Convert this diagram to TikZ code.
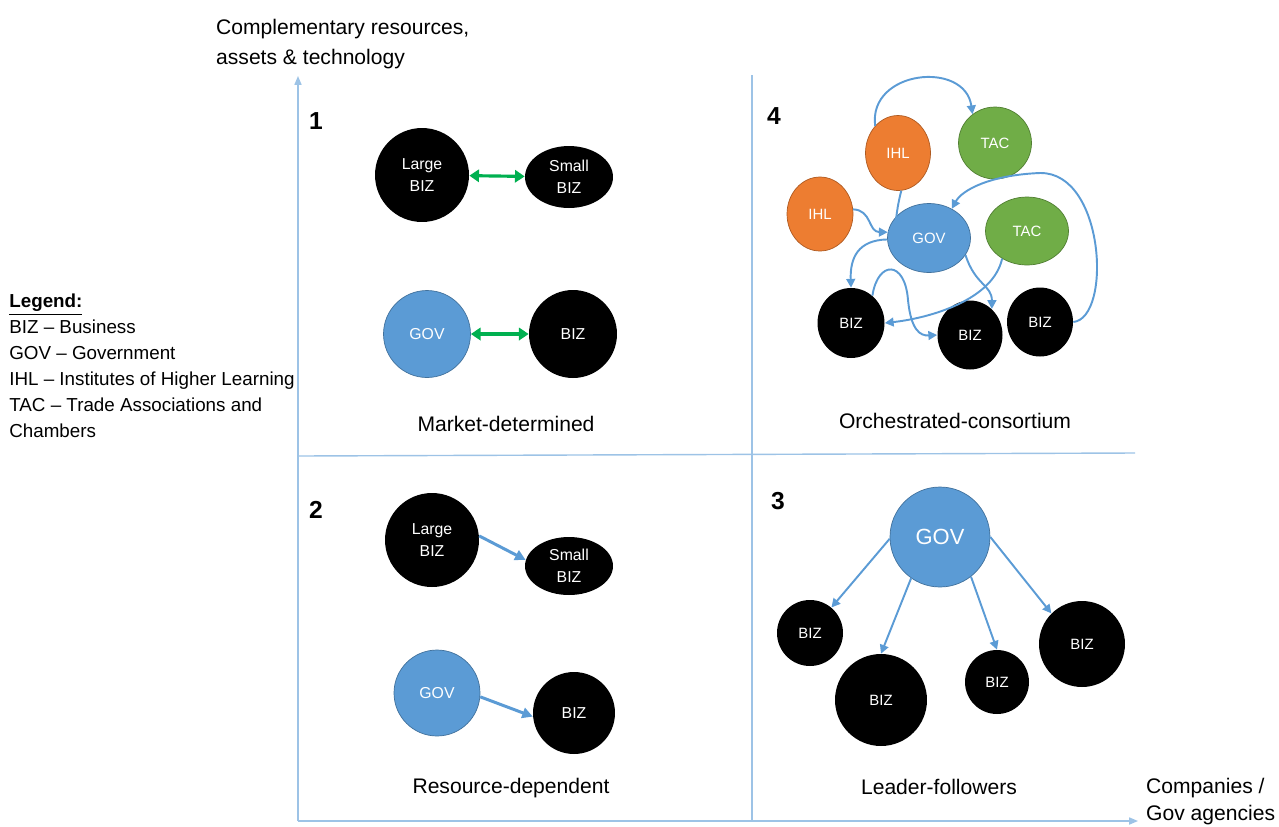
\documentclass[tikz,border=0pt]{standalone}
\usepackage{fontspec}
\setmainfont{Liberation Sans}
\usetikzlibrary{shapes.geometric,arrows.meta}
\definecolor{govblue}{HTML}{5B9BD5}
\definecolor{govedge}{HTML}{41719C}
\definecolor{ihlorange}{HTML}{ED7D31}
\definecolor{ihledge}{HTML}{AE5A21}
\definecolor{tacgreen}{HTML}{70AD47}
\definecolor{tacedge}{HTML}{507E32}
\definecolor{linkgreen}{HTML}{00B050}
\definecolor{axisblue}{HTML}{9DC3E6}
\begin{document}
\begin{tikzpicture}[x=0.02cm,y=-0.02cm]
	\useasboundingbox (0,0) rectangle (1279,826);
	\tikzstyle{unit}=[inner sep=0,text=white,align=center,font=\fontsize{9}{12.5}\selectfont]
	\tikzstyle{biz}=[unit,circle,fill=black]
	\tikzstyle{smallbiz}=[unit,ellipse,fill=black]
	\tikzstyle{gov}=[unit,circle,fill=govblue,draw=govedge,thin]
	\tikzstyle{blob}=[unit,ellipse,font=\fontsize{8.5}{10}\selectfont]
	\tikzstyle{ihl}=[blob,fill=ihlorange,draw=ihledge,thin]
	\tikzstyle{tac}=[blob,fill=tacgreen,draw=tacedge,thin]
	\tikzstyle{axis}=[draw=axisblue,line width=0.8pt]
	\tikzstyle{link}=[draw=linkgreen,line width=1.8pt,{Triangle[width=7pt,length=5.5pt]}-{Triangle[width=7pt,length=5.5pt]}]
	\tikzstyle{flow}=[draw=govblue,line width=1.7pt,-{Triangle[width=6pt,length=6pt]}]
	\tikzstyle{thinflow}=[draw=govblue,line width=1.1pt,-{Triangle[width=5pt,length=5pt]}]
	\tikzstyle{caption}=[font=\fontsize{12}{15}\selectfont]
	\tikzstyle{num}=[font=\fontsize{14}{15}\selectfont\bfseries]
	% axes and quadrant lines
	\coordinate (o) at (298,821);
	\coordinate (ytop) at (298,76);
	\coordinate (xend) at (1138,821);
	\coordinate (vtop) at (752,75);
	\coordinate (vbot) at (752,821);
	\coordinate (hleft) at (298,456);
	\coordinate (hright) at (1135,453);
	\draw[axis,-{Triangle[width=4pt,length=5pt]}] (o)--(ytop);
	\draw[axis,-{Triangle[width=4pt,length=5pt]}] (o)--(xend);
	\draw[axis] (vtop)--(vbot);
	\draw[axis] (hleft)--(hright);
	\node(ylab)[caption,anchor=north west,align=left,font=\fontsize{12}{17}\selectfont] at (210,13) {Complementary resources,\\assets \& technology};
	\node(xlab)[caption,anchor=north west,align=left,font=\fontsize{12}{15.3}\selectfont] at (1140,772) {Companies /\\Gov agencies};
	\node(legend)[anchor=north west,align=left,inner sep=0,font=\fontsize{10.7}{14.7}\selectfont] at (9,294)
		{\textbf{\underline{Legend:}}\\BIZ -- Business\\GOV -- Government\\IHL -- Institutes of Higher Learning\\TAC -- Trade Associations and\\Chambers};
	% 1: market-determined
	\node(n1)[num] at (316,121) {1};
	\node(lbiz1)[biz,minimum size=1.88cm] at (422,175) {Large\\BIZ};
	\node(sbiz1)[smallbiz,minimum width=1.76cm,minimum height=1.24cm] at (569,177) {Small\\BIZ};
	\node(gov1)[gov,minimum size=1.74cm] at (427,334) {GOV};
	\node(biz1)[biz,minimum size=1.76cm] at (573,334) {BIZ};
	\draw[link] (lbiz1)--(sbiz1);
	\draw[link] (gov1)--(biz1);
	\node(c1)[caption] at (506,424) {Market-determined};
	% 2: resource-dependent
	\node(n2)[num] at (316,510) {2};
	\node(lbiz2)[biz,minimum size=1.88cm] at (432,540) {Large\\BIZ};
	\node(sbiz2)[smallbiz,minimum width=1.76cm,minimum height=1.16cm] at (569,566) {Small\\BIZ};
	\node(gov2)[gov,minimum size=1.72cm] at (437,693) {GOV};
	\node(biz2)[biz,minimum size=1.64cm] at (574,713) {BIZ};
	\draw[flow] (lbiz2.5)--(sbiz2.172);
	\draw[flow] (gov2.-5)--(biz2.185);
	\node(c2)[caption] at (511,788) {Resource-dependent};
	% 3: leader-followers
	\node(n3)[num] at (778,501) {3};
	\node(gov3)[gov,minimum size=2cm,font=\fontsize{12.5}{14}\selectfont] at (940,537) {GOV};
	\node(biz3a)[biz,minimum size=1.32cm,font=\fontsize{8.5}{10}\selectfont] at (810,633) {BIZ};
	\node(biz3b)[biz,minimum size=1.84cm,font=\fontsize{8.5}{10}\selectfont] at (881,700) {BIZ};
	\node(biz3c)[biz,minimum size=1.28cm,font=\fontsize{8.5}{10}\selectfont] at (997,682) {BIZ};
	\node(biz3d)[biz,minimum size=1.72cm,font=\fontsize{8.5}{10}\selectfont] at (1082,644) {BIZ};
	\draw[thinflow] (gov3.182)--(biz3a.50);
	\draw[thinflow] (gov3.235)--(biz3b.north);
	\draw[thinflow] (gov3.-52)--(biz3c.north);
	\draw[thinflow] (gov3.0)--(biz3d.135);
	\node(c3)[caption] at (939,787) {Leader-followers};
	% 4: orchestrated-consortium
	\node(n4)[num] at (774,116) {4};
	\node(ihl4a)[ihl,minimum width=1.30cm,minimum height=1.50cm] at (898,153) {IHL};
	\node(tac4a)[tac,minimum width=1.46cm,minimum height=1.44cm] at (995,143) {TAC};
	\node(ihl4b)[ihl,minimum width=1.32cm,minimum height=1.48cm] at (820,214) {IHL};
	\node(gov4)[gov,ellipse,minimum width=1.66cm,minimum height=1.38cm,font=\fontsize{8.5}{10}\selectfont] at (929,238) {GOV};
	\node(tac4b)[tac,minimum width=1.66cm,minimum height=1.36cm] at (1027,231) {TAC};
	\node(biz4a)[smallbiz,minimum width=1.34cm,minimum height=1.40cm,font=\fontsize{8.5}{10}\selectfont] at (851,323) {BIZ};
	\node(biz4b)[smallbiz,minimum width=1.30cm,minimum height=1.38cm,font=\fontsize{8.5}{10}\selectfont] at (970,335) {BIZ};
	\node(biz4c)[smallbiz,minimum width=1.32cm,minimum height=1.38cm,font=\fontsize{8.5}{10}\selectfont] at (1040,322) {BIZ};
	\draw[thinflow] (ihl4a.130) .. controls (868,70) and (965,60) .. (tac4a.128);
	\draw[thinflow] (ihl4a.275) .. controls (895,215) and (896,228) .. (gov4.172);
	\draw[thinflow] (ihl4b.8) .. controls (872,210) and (868,232) .. (gov4.172);
	\draw[thinflow] (gov4.182) .. controls (858,240) and (850,258) .. (biz4a.north);
	\draw[thinflow] (biz4c.east) .. controls (1112,318) and (1105,172) .. (1040,173) .. controls (990,175) and (962,190) .. (gov4.52);
	\draw[thinflow] (gov4.-25) .. controls (975,285) and (992,285) .. (biz4b.50);
	\draw[thinflow] (tac4b.-132) .. controls (993,300) and (930,318) .. (biz4a.east);
	\draw[thinflow] (biz4a.52) .. controls (878,260) and (905,260) .. (908,300) .. controls (911,330) and (920,336) .. (biz4b.west);
	\node(c4)[caption] at (955,421) {Orchestrated-consortium};
\end{tikzpicture}
\end{document}
